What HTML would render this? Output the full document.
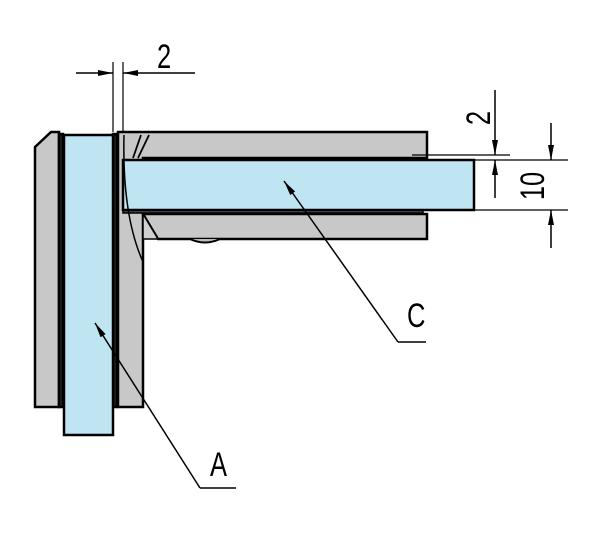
<!DOCTYPE html>
<html><head><style>body{margin:0;background:#fff}svg{display:block}</style></head><body>
<svg width="600" height="542" viewBox="0 0 600 542" xmlns="http://www.w3.org/2000/svg" font-family="Liberation Sans, sans-serif">
<defs><marker id="ar" viewBox="0 0 10 4" refX="10" refY="2" markerWidth="16" markerHeight="6" markerUnits="userSpaceOnUse" orient="auto"><path d="M0,0L10,2L0,4z" fill="#000"/></marker></defs>
<g stroke="#000" stroke-width="2.5" fill="#c8c8c8">
<path d="M35,147 L51,132 L59,132 L59,407 L35,407 Z"/>
<rect x="59" y="134" width="4" height="273" fill="#222"/>
<path d="M118,132 L427,132 L427,158 L143,158 L143,407 L118,407 Z"/>
<path d="M143,214 L427,214 L427,239 L158,239 Z"/>
<path d="M143,214 L158,239 L143,239 Z" fill="#d0d0d0" stroke-width="1.5"/>
<path d="M190,239 Q205,246 220,239" fill="#bbb" stroke-width="2"/>
<rect x="113" y="134" width="4" height="273" fill="#222"/>
<rect x="123" y="209" width="300" height="4" fill="#555" stroke-width="1.5"/>
<rect x="64" y="135" width="49" height="300" fill="#bfe4f2"/>
<rect x="123" y="160" width="351" height="50" fill="#bfe4f2"/>
</g>
<g stroke="#000" stroke-width="1.5" fill="none">
<path d="M124,135 Q122,215 143,262"/>
<path d="M133,158 L141,135 M138,158 L149,135" stroke-width="1.8"/>
<line x1="113" y1="62" x2="113" y2="132" stroke-width="1.2"/>
<line x1="123" y1="62" x2="123" y2="132" stroke-width="1.2"/>
<line x1="76" y1="73" x2="113" y2="73" marker-end="url(#ar)"/>
<line x1="195" y1="73" x2="123" y2="73" marker-end="url(#ar)"/>
<line x1="412" y1="155" x2="510" y2="155" stroke-width="1.2"/>
<line x1="474" y1="160" x2="568" y2="160" stroke-width="1.2"/>
<line x1="474" y1="210" x2="568" y2="210" stroke-width="1.2"/>
<line x1="495" y1="90" x2="495" y2="155" marker-end="url(#ar)"/>
<line x1="495" y1="198" x2="495" y2="160" marker-end="url(#ar)"/>
<line x1="551" y1="123" x2="551" y2="160" marker-end="url(#ar)"/>
<line x1="551" y1="248" x2="551" y2="210" marker-end="url(#ar)"/>
<path d="M398,342 L284,181" marker-end="url(#ar)"/>
<path d="M398,342 L426,342"/>
<path d="M200,488 L95,323" marker-end="url(#ar)"/>
<path d="M200,488 L236,488"/>
</g>
<g font-size="34" fill="#000">
<text transform="translate(157,68) scale(0.75,1)">2</text>
<text transform="translate(407,327) scale(0.75,1)">C</text>
<text transform="translate(210,476) scale(0.75,1)">A</text>
<text transform="translate(490,118) rotate(-90) scale(0.75,1)" text-anchor="middle">2</text>
<text transform="translate(544,186) rotate(-90) scale(0.75,1)" text-anchor="middle">10</text>
</g>
</svg>
</body></html>
